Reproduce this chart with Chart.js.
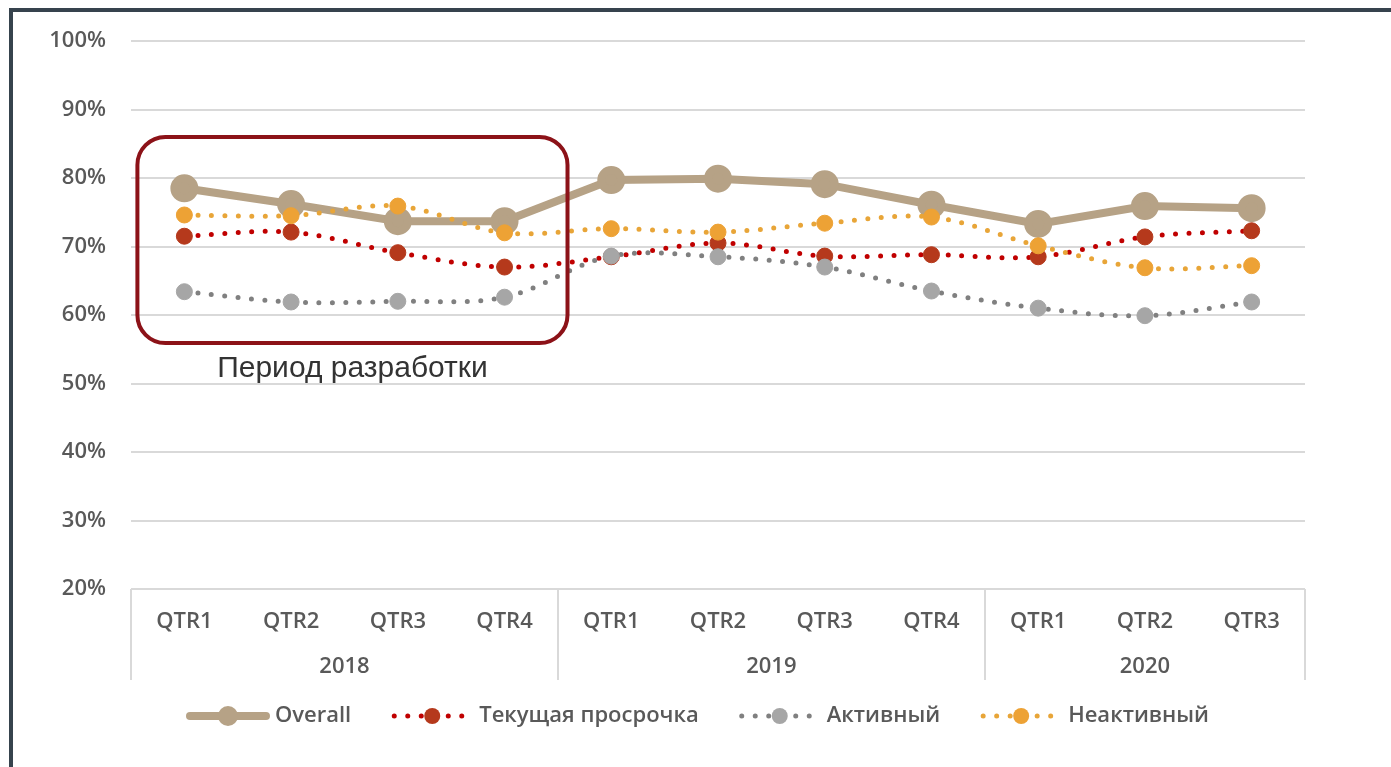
<!DOCTYPE html>
<html>
<head>
<meta charset="utf-8">
<script src="https://cdn.jsdelivr.net/npm/chart.js@4/dist/chart.umd.min.js"></script>
<style>
  html, body { margin: 0; padding: 0; background: #fff; }
  #frame { position: absolute; left: 9px; top: 8px; width: 1382px; height: 759px;
           border-top: 4px solid #36434d; border-left: 4px solid #36434d; box-sizing: border-box; }
  #chart { position: absolute; left: 0; top: 0; }
</style>
</head>
<body>
<div id="frame"></div>
<canvas id="chart" width="1391" height="767"></canvas>
<script>
// quarters and years on the x axis
var categories = ["QTR1", "QTR2", "QTR3", "QTR4", "QTR1", "QTR2", "QTR3", "QTR4", "QTR1", "QTR2", "QTR3"];
var years = ["2018", "2019", "2020"];
var yearSpans = [4, 4, 3];

// series values, %
var overall = [78.5, 76.2, 73.7, 73.7, 79.7, 79.9, 79.1, 76.1, 73.3, 75.9, 75.6];
var tekushaya = [71.5, 72.1, 69.1, 67.0, 68.5, 70.5, 68.6, 68.8, 68.5, 71.4, 72.3];
var aktivny = [63.4, 61.9, 62.0, 62.6, 68.6, 68.5, 67.0, 63.5, 61.0, 59.9, 61.9];
var neaktivny = [74.6, 74.5, 75.9, 72.0, 72.6, 72.1, 73.4, 74.3, 70.1, 66.9, 67.2];

// y axis range
var yMin = 20, yMax = 100, yStep = 10;

// highlighted development period (category index / % range)
var periodLabel = "Период разработки";
var periodFrom = -0.44, periodTo = 3.59, periodTop = 86, periodBottom = 55.9;

var textColor = "#595959";
var gridColor = "#d9d9d9";
var tickFont = { size: 22, weight: "600" };
Chart.defaults.font.family = "'Open Sans', sans-serif";

function dotted(label, data, lineColor, markColor, order) {
    return {
        label: label, data: data, order: order,
        borderColor: lineColor, backgroundColor: markColor,
        borderWidth: 5, borderDash: [0, 13.5], borderCapStyle: "round",
        tension: 0.35,
        pointRadius: 8, pointBackgroundColor: markColor, pointBorderColor: markColor,
        pointBorderWidth: 1
    };
}

var extras = {
    id: "extras",
    afterDraw: function (chart) {
        var ctx = chart.ctx, x = chart.scales.x, y = chart.scales.y, area = chart.chartArea;
        ctx.save();
        // group separators and year labels
        ctx.strokeStyle = gridColor;
        ctx.lineWidth = 2;
        var start = 0;
        var bounds = [-0.5];
        yearSpans.forEach(function (n) { start += n; bounds.push(start - 0.5); });
        bounds.forEach(function (b) {
            var px = Math.round(x.getPixelForValue(b));
            ctx.beginPath();
            ctx.moveTo(px, area.bottom);
            ctx.lineTo(px, area.bottom + 91);
            ctx.stroke();
        });
        ctx.fillStyle = textColor;
        ctx.font = "600 22px 'Open Sans'";
        ctx.textAlign = "center";
        ctx.textBaseline = "middle";
        start = 0;
        years.forEach(function (yr, i) {
            var mid = start + (yearSpans[i] - 1) / 2;
            ctx.fillText(yr, x.getPixelForValue(mid), area.bottom + 78);
            start += yearSpans[i];
        });

        // development period box
        var l = x.getPixelForValue(periodFrom), r = x.getPixelForValue(periodTo);
        var t = y.getPixelForValue(periodTop), b = y.getPixelForValue(periodBottom);
        ctx.strokeStyle = "#8c1218";
        ctx.lineWidth = 4;
        ctx.beginPath();
        ctx.roundRect(l, t, r - l, b - t, 28);
        ctx.stroke();
        ctx.fillStyle = "#333333";
        ctx.font = "30px 'Liberation Sans', Arial, sans-serif";
        ctx.fillText(periodLabel, (l + r) / 2, b + 26);

        // legend
        ctx.font = "600 22px 'Open Sans'";
        var sample = 82, gap = 6, spacing = 40;
        var items = chart.data.datasets.map(function (ds) {
            return { ds: ds, w: sample + gap + ctx.measureText(ds.label).width };
        });
        var total = items.reduce(function (s, it) { return s + it.w; }, 0) + spacing * (items.length - 1);
        var cx = (area.left + area.right) / 2 - 20 - total / 2;
        var ly = 716;
        ctx.textAlign = "left";
        items.forEach(function (it) {
            var ds = it.ds;
            ctx.strokeStyle = ds.borderColor;
            ctx.lineWidth = ds.borderWidth;
            ctx.lineCap = ds.borderCapStyle || "butt";
            ctx.setLineDash(ds.borderDash || []);
            ctx.beginPath();
            ctx.moveTo(cx + 3, ly);
            ctx.lineTo(cx + sample - 3, ly);
            ctx.stroke();
            ctx.setLineDash([]);
            ctx.fillStyle = ds.pointBackgroundColor;
            ctx.beginPath();
            ctx.arc(cx + sample / 2, ly, ds.pointRadius, 0, Math.PI * 2);
            ctx.fill();
            ctx.fillStyle = textColor;
            ctx.fillText(ds.label, cx + sample + gap, ly);
            cx += it.w + spacing;
        });
        ctx.restore();
    }
};

new Chart(document.getElementById("chart").getContext("2d"), {
    type: "line",
    data: {
        labels: categories,
        datasets: [
            {
                label: "Overall", data: overall, order: 4,
                borderColor: "#b6a286", backgroundColor: "#b6a286",
                borderWidth: 8, tension: 0, borderCapStyle: "round",
                pointRadius: 10, pointBackgroundColor: "#b6a286", pointBorderColor: "#b6a286"
            },
            dotted("Текущая просрочка", tekushaya, "#c00000", "#b5391c", 3),
            dotted("Активный", aktivny, "#808080", "#a6a6a6", 2),
            dotted("Неактивный", neaktivny, "#e8a538", "#eda235", 1)
        ]
    },
    options: {
        responsive: false,
        animation: false,
        layout: { padding: { left: 0, right: 86, top: 41, bottom: 78 } },
        plugins: { legend: { display: false }, tooltip: { enabled: false } },
        scales: {
            x: {
                offset: true,
                grid: { display: false, drawTicks: false },
                border: { display: false },
                ticks: { color: textColor, font: tickFont, padding: 20, maxRotation: 0, autoSkip: false },
                afterFit: function (s) { s.height = 100; }
            },
            y: {
                min: yMin, max: yMax,
                grid: { color: gridColor, lineWidth: 2, drawTicks: false },
                border: { display: false },
                ticks: {
                    stepSize: yStep, color: textColor, font: tickFont, padding: 25,
                    callback: function (v) { return v + "%"; }
                },
                afterFit: function (s) { s.width = 131; }
            }
        }
    },
    plugins: [extras]
});
</script>
</body>
</html>
